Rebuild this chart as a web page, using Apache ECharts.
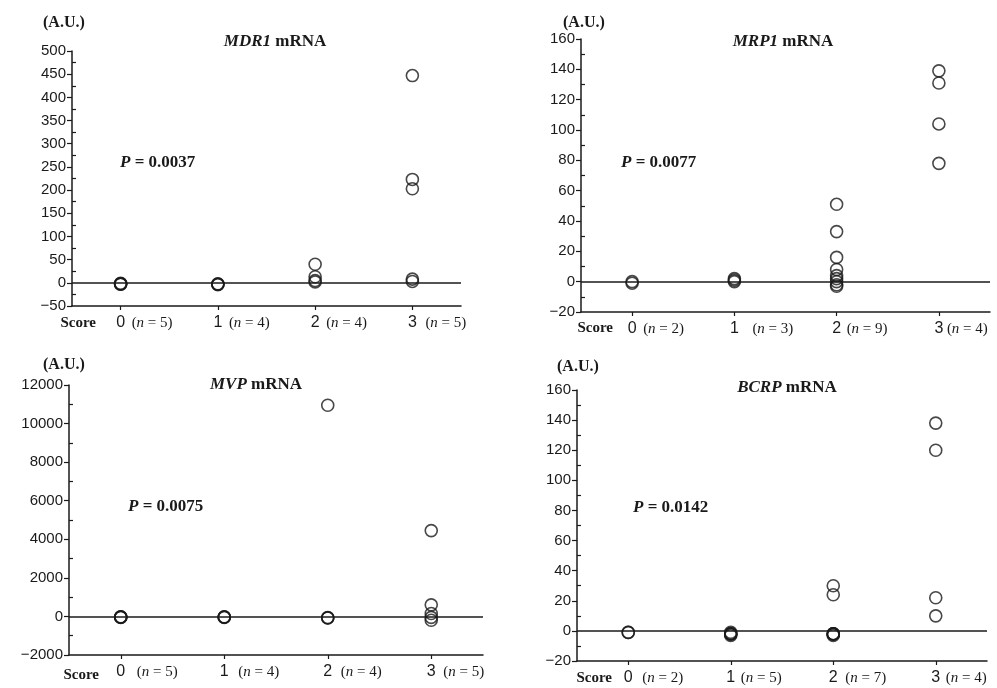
<!DOCTYPE html>
<html><head><meta charset="utf-8">
<script src="https://cdn.jsdelivr.net/npm/echarts@6/dist/echarts.min.js"></script>
<style>html,body{margin:0;padding:0;background:#fff}#c{width:997px;height:688px}</style>
</head><body><div id="c"></div>
<script>
// ---------- data ----------
const scoreLabels = ['0', '1', '2', '3'];
const geneNames = ['MDR1', 'MRP1', 'MVP', 'BCRP'];
const pValues = ['0.0037', '0.0077', '0.0075', '0.0142'];

const mdr1N = [5, 4, 4, 5];
const mdr1Values = [[-2, -3, -1, -2, -3], [-3, -4, -2, -3], [40, 13, 5, 2], [447, 223, 203, 8, 3]];
const mdr1YTicks = [-50, 0, 50, 100, 150, 200, 250, 300, 350, 400, 450, 500];

const mrp1N = [2, 3, 9, 4];
const mrp1Values = [[0, -1], [2, 1, 0], [51, 33, 16, 8, 4, 2, 0, -2, -3], [139, 131, 104, 78]];
const mrp1YTicks = [-20, 0, 20, 40, 60, 80, 100, 120, 140, 160];

const mvpN = [5, 4, 4, 5];
const mvpValues = [[-30, -50, -20, -40, -30], [-20, -40, -30, -50], [10950, -60, -80, -70], [4450, 600, 150, -50, -200]];
const mvpYTicks = [-2000, 0, 2000, 4000, 6000, 8000, 10000, 12000];

const bcrpN = [2, 5, 7, 4];
const bcrpValues = [[-1, -1], [-2, -2, -1, -2, -3], [30, 24, -2, -2, -3, -2, -2], [138, 120, 22, 10]];
const bcrpYTicks = [-20, 0, 20, 40, 60, 80, 100, 120, 140, 160];

// ---------- layout ----------
const panels = [
  { n: mdr1N, values: mdr1Values, ticks: mdr1YTicks,
    grid: {left: 72, top: 51, width: 389, height: 255},
    au: [43, 23], title: [275, 42], p: [120, 163], score: [96, 323], gaps: [11, 11, 11, 13] },
  { n: mrp1N, values: mrp1Values, ticks: mrp1YTicks,
    grid: {left: 581, top: 39, width: 409, height: 273},
    au: [563, 23], title: [783, 42], p: [621, 163], score: [613, 328], gaps: [11, 18, 10, 8] },
  { n: mvpN, values: mvpValues, ticks: mvpYTicks,
    grid: {left: 69, top: 385, width: 414, height: 270},
    au: [43, 365], title: [256, 385], p: [128, 507], score: [99, 675], gaps: [16, 14, 13, 12] },
  { n: bcrpN, values: bcrpValues, ticks: bcrpYTicks,
    grid: {left: 577, top: 390, width: 410, height: 271},
    au: [557, 367], title: [787, 388], p: [633, 508], score: [612, 678], gaps: [14, 10, 12, 10] }
];

const INK = '#1a1a1a';
const SERIF = '"Liberation Serif", "DejaVu Serif", serif';
const SANS = '"Liberation Sans", Arial, sans-serif';

const grids = [], xAxes = [], yAxes = [], series = [], graphics = [];

panels.forEach((pn, k) => {
  grids.push(Object.assign({containLabel: false}, pn.grid));
  const yMin = pn.ticks[0], yMax = pn.ticks[pn.ticks.length - 1], yInt = pn.ticks[1] - pn.ticks[0];

  // main x axis: digit labels
  xAxes.push({
    type: 'category', gridIndex: k, data: scoreLabels, boundaryGap: true, position: 'bottom',
    axisLine: {show: true, onZero: false, lineStyle: {color: INK, width: 1.5}},
    axisTick: {show: true, alignWithLabel: true, length: 4, lineStyle: {color: INK, width: 1.2}},
    axisLabel: {interval: 0, margin: 9, fontFamily: SANS, fontSize: 16, color: INK},
    splitLine: {show: false}
  });
  // overlay x axis: (n = x) labels
  const rich = {
    t: {fontFamily: SERIF, fontSize: 15, color: INK},
    i: {fontFamily: SERIF, fontSize: 15, fontStyle: 'italic', color: INK}
  };
  pn.gaps.forEach((g, j) => { rich['g' + j] = {width: g, fontSize: 15}; });
  xAxes.push({
    type: 'category', gridIndex: k, data: scoreLabels, boundaryGap: true, position: 'bottom',
    axisLine: {show: false}, axisTick: {show: false}, splitLine: {show: false},
    axisLabel: {
      interval: 0, margin: 10, align: 'left', rich: rich,
      formatter: (v, idx) => `{g${idx}| }{t|(}{i|n}{t| = ${pn.n[idx]})}`
    }
  });

  // main y axis
  yAxes.push({
    type: 'value', gridIndex: k, min: yMin, max: yMax, interval: yInt, position: 'left',
    axisLine: {show: true, onZero: false, lineStyle: {color: INK, width: 1.5}},
    axisTick: {show: true, length: 5, lineStyle: {color: INK, width: 1.2}},
    axisLabel: {margin: 6, fontFamily: SANS, fontSize: 15, color: INK,
      formatter: v => String(v).replace('-', '\u2212')},
    splitLine: {show: false}
  });
  // overlay y axis on the left edge (right-positioned, shifted) so minor ticks point into the plot
  yAxes.push({
    type: 'value', gridIndex: k, min: yMin, max: yMax, interval: yInt,
    position: 'right', offset: -pn.grid.width,
    axisLine: {show: false}, axisLabel: {show: false}, splitLine: {show: false},
    axisTick: {show: false},
    minorTick: {show: true, splitNumber: 2, length: 4, lineStyle: {color: INK, width: 1.2}}
  });

  const pts = [];
  pn.values.forEach((arr, i) => arr.forEach(v => pts.push([i, v])));
  series.push({
    type: 'scatter', xAxisIndex: 2 * k, yAxisIndex: 2 * k, data: pts,
    symbol: 'circle', symbolSize: 12,
    itemStyle: {color: 'rgba(0,0,0,0)', borderColor: INK, borderWidth: 1.6},
    emphasis: {disabled: true}, silent: true,
    markLine: {
      silent: true, symbol: 'none', animation: false,
      label: {show: false},
      lineStyle: {color: INK, width: 1.5, type: 'solid'},
      data: [{yAxis: 0}]
    }
  });

  // annotations
  graphics.push({
    type: 'text', x: pn.au[0], y: pn.au[1],
    style: {text: '(A.U.)', fontFamily: SERIF, fontWeight: 'bold', fontSize: 16, fill: INK,
      align: 'left', verticalAlign: 'middle'}
  });
  graphics.push({
    type: 'text', x: pn.title[0], y: pn.title[1],
    style: {text: `{i|${geneNames[k]}}{b| mRNA}`, align: 'center', verticalAlign: 'middle',
      rich: {
        i: {fontFamily: SERIF, fontWeight: 'bold', fontStyle: 'italic', fontSize: 17, fill: INK},
        b: {fontFamily: SERIF, fontWeight: 'bold', fontSize: 17, fill: INK}
      }}
  });
  graphics.push({
    type: 'text', x: pn.p[0], y: pn.p[1],
    style: {text: `{i|P}{b| = ${pValues[k]}}`, align: 'left', verticalAlign: 'middle',
      rich: {
        i: {fontFamily: SERIF, fontWeight: 'bold', fontStyle: 'italic', fontSize: 17, fill: INK},
        b: {fontFamily: SERIF, fontWeight: 'bold', fontSize: 17, fill: INK}
      }}
  });
  graphics.push({
    type: 'text', x: pn.score[0], y: pn.score[1],
    style: {text: 'Score', fontFamily: SERIF, fontWeight: 'bold', fontSize: 15, fill: INK,
      align: 'right', verticalAlign: 'middle'}
  });
});

const chart = echarts.init(document.getElementById('c'), null, {renderer: 'canvas'});
chart.setOption({
  backgroundColor: '#ffffff',
  animation: false,
  grid: grids, xAxis: xAxes, yAxis: yAxes, series: series, graphic: graphics
});
</script>
</body></html>
